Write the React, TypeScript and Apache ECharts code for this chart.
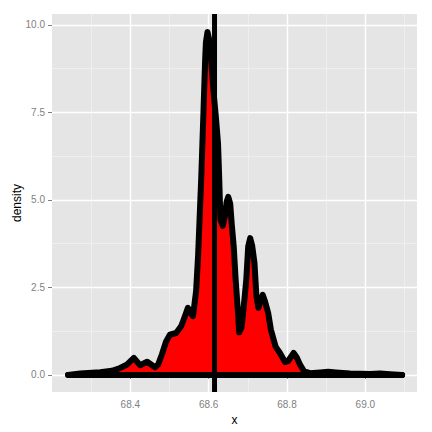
import React, { useEffect, useRef } from "react";
import * as echarts from "echarts";

// density curve (x, density)
const densityX = [
  68.241, 68.272, 68.323, 68.353, 68.374, 68.392, 68.409, 68.425, 68.443, 68.463,
  68.471, 68.481, 68.491, 68.501, 68.517, 68.530, 68.540, 68.547, 68.555, 68.560,
  68.568, 68.573, 68.577, 68.581, 68.584, 68.587, 68.591, 68.593, 68.597, 68.601,
  68.605, 68.609, 68.614, 68.619, 68.624, 68.627, 68.630, 68.636, 68.641, 68.646,
  68.650, 68.655, 68.659, 68.664, 68.669, 68.675, 68.678, 68.684, 68.690, 68.696,
  68.701, 68.706, 68.711, 68.717, 68.722, 68.727, 68.733, 68.738, 68.744, 68.752,
  68.759, 68.771, 68.782, 68.795, 68.803, 68.809, 68.817, 68.825, 68.834, 68.844,
  68.859, 68.885, 68.905, 68.925, 68.961, 69.012, 69.038, 69.063, 69.094,
];
const densityY = [
  0, 0.04, 0.08, 0.12, 0.2, 0.3, 0.49, 0.28, 0.38, 0.22,
  0.3, 0.6, 0.95, 1.15, 1.2, 1.4, 1.7, 1.92, 1.75, 1.68,
  2.4, 3.4, 4.5, 5.6, 6.6, 7.6, 9.0, 9.5, 9.8, 9.6,
  9.2, 8.6, 7.9, 7.3, 6.6, 5.6, 4.45, 4.26, 4.5, 4.95,
  5.09, 4.9, 4.3, 3.67, 2.71, 1.77, 1.22, 1.35, 2.0, 2.71,
  3.67, 3.91, 3.7, 3.2, 2.24, 1.92, 2.15, 2.29, 2.1, 1.77,
  1.29, 0.81, 0.63, 0.37, 0.4, 0.5, 0.63, 0.5, 0.28, 0.1,
  0.05, 0.07, 0.09, 0.07, 0.04, 0.03, 0.04, 0.02, 0,
];
const vlineX = 68.615;

const xRange = [68.2, 69.132];
const yRange = [-0.486, 10.314];
const xMajorTicks = [68.4, 68.6, 68.8, 69.0];
const xMinorTicks = [68.3, 68.5, 68.7, 68.9, 69.1];
const yMajorTicks = [0, 2.5, 5, 7.5, 10];
const yMinorTicks = [1.25, 3.75, 6.25, 8.75];

const FONT = "Liberation Sans, Arial, sans-serif";

export default function App() {
  const ref = useRef<HTMLDivElement>(null);
  useEffect(() => {
    if (!ref.current) return;
    const chart = echarts.init(ref.current, undefined, { renderer: "svg" });
    const curve = densityX.map((x, i) => [x, densityY[i]]);
    const base = [
      [densityX[0], 0],
      [densityX[densityX.length - 1], 0],
    ];
    const vline = [
      [vlineX, yRange[0]],
      [vlineX, yRange[1]],
    ];
    const minorX = {
      type: "value",
      gridIndex: 0,
      position: "bottom",
      min: xRange[0],
      max: xRange[1],
      axisLine: { show: false },
      axisTick: { show: false, customValues: xMinorTicks },
      axisLabel: { show: false, customValues: xMinorTicks },
      splitLine: { show: true, lineStyle: { color: "#f4f4f4", width: 0.7 } },
    };
    const minorY = {
      type: "value",
      gridIndex: 0,
      position: "left",
      min: yRange[0],
      max: yRange[1],
      axisLine: { show: false },
      axisTick: { show: false, customValues: yMinorTicks },
      axisLabel: { show: false, customValues: yMinorTicks },
      splitLine: { show: true, lineStyle: { color: "#f4f4f4", width: 0.7 } },
    };
    chart.setOption({
      animation: false,
      backgroundColor: "#ffffff",
      grid: {
        left: 52,
        top: 14,
        right: 15,
        bottom: 40,
        show: true,
        backgroundColor: "#e5e5e5",
        borderWidth: 0,
        outerBoundsMode: "none",
        containLabel: false,
      },
      xAxis: [
        minorX,
        {
          type: "value",
          gridIndex: 0,
          position: "bottom",
          min: xRange[0],
          max: xRange[1],
          name: "x",
          nameLocation: "middle",
          nameGap: 20,
          nameTextStyle: { color: "#000000", fontSize: 12, fontFamily: FONT },
          axisLine: { show: false },
          axisTick: {
            show: true,
            customValues: xMajorTicks,
            length: 4,
            lineStyle: { color: "#7f7f7f", width: 1 },
          },
          axisLabel: {
            customValues: xMajorTicks,
            formatter: (v: number) => v.toFixed(1),
            color: "#7f7f7f",
            fontSize: 10,
            fontFamily: FONT,
            margin: 7,
          },
          splitLine: { show: true, lineStyle: { color: "#ffffff", width: 1.4 } },
        },
      ],
      yAxis: [
        minorY,
        {
          type: "value",
          gridIndex: 0,
          position: "left",
          min: yRange[0],
          max: yRange[1],
          name: "density",
          nameLocation: "middle",
          nameGap: 29,
          nameMoveOverlap: false,
          nameTextStyle: { color: "#000000", fontSize: 12, fontFamily: FONT },
          axisLine: { show: false },
          axisTick: {
            show: true,
            customValues: yMajorTicks,
            length: 4,
            lineStyle: { color: "#7f7f7f", width: 1 },
          },
          axisLabel: {
            customValues: yMajorTicks,
            formatter: (v: number) => v.toFixed(1),
            color: "#7f7f7f",
            fontSize: 10,
            fontFamily: FONT,
            margin: 7,
          },
          splitLine: { show: true, lineStyle: { color: "#ffffff", width: 1.4 } },
        },
      ],
      series: [
        {
          type: "line",
          xAxisIndex: 1,
          yAxisIndex: 1,
          data: curve,
          showSymbol: false,
          symbol: "none",
          lineStyle: { color: "#000000", width: 6, cap: "round", join: "round" },
          areaStyle: { color: "#ff0000", opacity: 1 },
          z: 3,
        },
        {
          type: "line",
          xAxisIndex: 1,
          yAxisIndex: 1,
          data: base,
          showSymbol: false,
          symbol: "none",
          lineStyle: { color: "#000000", width: 6, cap: "round" },
          z: 4,
        },
        {
          type: "line",
          xAxisIndex: 1,
          yAxisIndex: 1,
          data: vline,
          showSymbol: false,
          symbol: "none",
          lineStyle: { color: "#000000", width: 5, cap: "butt" },
          z: 5,
        },
      ],
    });
    return () => chart.dispose();
  }, []);
  return (
    <div
      ref={ref}
      style={{ position: "fixed", left: 0, top: 0, width: 432, height: 432 }}
    />
  );
}
